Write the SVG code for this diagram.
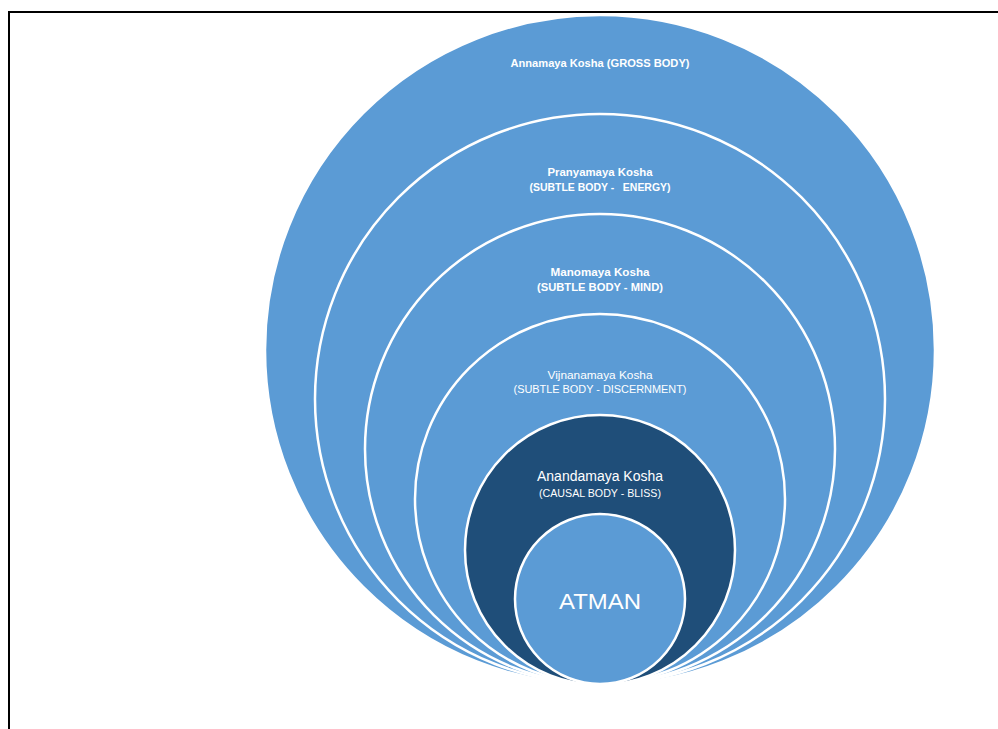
<svg xmlns="http://www.w3.org/2000/svg" width="998" height="729" viewBox="0 0 998 729">
<style>
.ring{fill:#5B9BD5;stroke:#FFFFFF;stroke-width:2.5}
.dark{fill:#1F4E79;stroke:#FFFFFF;stroke-width:2.5}
.t{font-family:"Liberation Sans",Arial,sans-serif;fill:#FFFFFF;text-anchor:middle}
.b{font-weight:bold;font-size:11px}
.r{font-size:11px}
</style>
<rect x="0" y="0" width="998" height="729" fill="#FFFFFF"/>
<path d="M9 729 V12 H998" fill="none" stroke="#000000" stroke-width="2"/>
<g id="annamaya">
<circle class="ring" cx="600" cy="350" r="335"/>
<text class="t b" x="600" y="67" textLength="179" lengthAdjust="spacingAndGlyphs">Annamaya Kosha (GROSS BODY)</text>
</g>
<g id="pranyamaya">
<circle class="ring" cx="600" cy="399" r="285"/>
<text class="t b" x="600" y="176" textLength="105" lengthAdjust="spacingAndGlyphs">Pranyamaya Kosha</text>
<text class="t b" x="600" y="191" textLength="141" lengthAdjust="spacingAndGlyphs" xml:space="preserve">(SUBTLE BODY -   ENERGY)</text>
</g>
<g id="manomaya">
<circle class="ring" cx="600" cy="449" r="235"/>
<text class="t b" x="600" y="276" textLength="99" lengthAdjust="spacingAndGlyphs">Manomaya Kosha</text>
<text class="t b" x="600" y="291" textLength="126" lengthAdjust="spacingAndGlyphs">(SUBTLE BODY - MIND)</text>
</g>
<g id="vijnanamaya">
<circle class="ring" cx="600" cy="499" r="185"/>
<text class="t r" x="600" y="379" textLength="105" lengthAdjust="spacingAndGlyphs">Vijnanamaya Kosha</text>
<text class="t r" x="600" y="393" textLength="173" lengthAdjust="spacingAndGlyphs">(SUBTLE BODY - DISCERNMENT)</text>
</g>
<g id="anandamaya">
<circle class="dark" cx="600" cy="550" r="135"/>
<text class="t" x="600" y="481" font-size="14" textLength="126" lengthAdjust="spacingAndGlyphs">Anandamaya Kosha</text>
<text class="t" x="600" y="497" font-size="11" textLength="122" lengthAdjust="spacingAndGlyphs">(CAUSAL BODY - BLISS)</text>
</g>
<g id="atman">
<circle class="ring" cx="600" cy="599" r="85"/>
<text class="t" x="600" y="609" font-size="22" textLength="82" lengthAdjust="spacingAndGlyphs">ATMAN</text>
</g>
<g id="connectors"></g>
</svg>
